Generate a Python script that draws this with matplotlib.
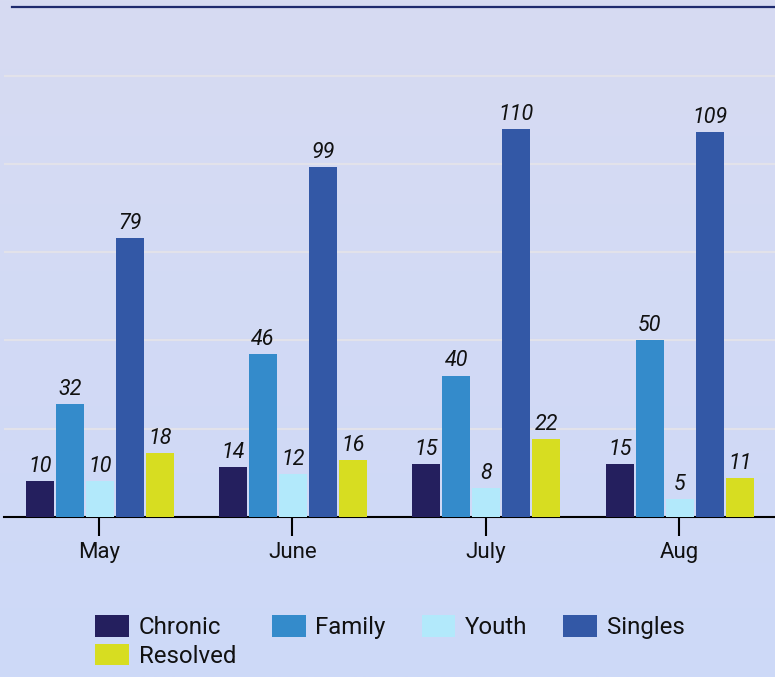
import numpy as np
import matplotlib
matplotlib.use("Agg")
import matplotlib.pyplot as plt
from matplotlib.lines import Line2D

plt.rcParams['font.family'] = ['Roboto', 'DejaVu Sans']

months = ["May", "June", "July", "Aug"]
series_names = ["Chronic", "Family", "Youth", "Singles", "Resolved"]
chronic = [10, 14, 15, 15]
family = [32, 46, 40, 50]
youth = [10, 12, 8, 5]
singles = [79, 99, 110, 109]
resolved = [18, 16, 22, 11]
series_values = [chronic, family, youth, singles, resolved]
colors = ["#241f5e", "#348bcb", "#b2e9fb", "#3358a6", "#d7dd21"]

W, H = 775, 677
fig = plt.figure(figsize=(W / 100, H / 100), dpi=100)

# background gradient
bg = fig.add_axes([0, 0, 1, 1], zorder=-10)
top_c = np.array([215, 219, 242]) / 255
bot_c = np.array([205, 217, 248]) / 255
t = np.linspace(0, 1, 256)[:, None]
grad = (top_c[None, :] * (1 - t) + bot_c[None, :] * t)[:, None, :]
bg.imshow(grad, aspect='auto', extent=[0, 1, 0, 1], origin='upper')
bg.set_axis_off()

base_px = 516.7
top_px = 7.0
left_px = 4.0
ax = fig.add_axes([left_px / W, (H - base_px) / H, (W - left_px) / W, (base_px - top_px) / H])
ax.set_facecolor('none')

x = np.arange(len(months))
pitch = 0.155
width = 0.145
n = len(series_names)
handles = []
for i, (name, vals, col) in enumerate(zip(series_names, series_values, colors)):
    offs = (i - (n - 1) / 2) * pitch
    bars = ax.bar(x + offs + 0.004, vals, width=width, color=col, label=name, zorder=3)
    handles.append(bars)
    for b, v in zip(bars, vals):
        ax.annotate(str(v), (b.get_x() + b.get_width() / 2, b.get_height()),
                    xytext=(0, 3), textcoords='offset points', ha='center', va='bottom',
                    fontsize=15.5, style='italic', color='#111111', zorder=4)

ax.set_xlim(-0.4915, 3.497)
ax.set_ylim(0, 144.5)
ax.set_yticks([25, 50, 75, 100, 125])
ax.yaxis.grid(True, color='#e2e2ea', linewidth=1.6, zorder=0)
ax.set_axisbelow(True)
ax.tick_params(axis='y', left=False, labelleft=False)
ax.set_xticks(x)
ax.set_xticklabels(months, fontsize=16, color='#111111')
ax.tick_params(axis='x', length=13.5, width=1.5, color='black', pad=4.5)
for s in ['top', 'right', 'left']:
    ax.spines[s].set_visible(False)
ax.spines['bottom'].set_color('black')
ax.spines['bottom'].set_linewidth(1.5)

# top rule
fig.add_artist(Line2D([12 / W, 1], [1 - 7 / H, 1 - 7 / H], color='#1e2a6e', linewidth=1.6))

# legend: row-major order (Chronic, Family, Youth, Singles / Resolved)
order = [0, 4, 1, 2, 3]
leg = fig.legend([handles[k] for k in order], [series_names[k] for k in order],
                 loc='upper center', bbox_to_anchor=(0.503, 1 - 603 / H), ncol=4,
                 frameon=False, fontsize=17.3, handlelength=1.4, handleheight=1.0,
                 handletextpad=0.4, columnspacing=1.5, labelspacing=0.2, borderpad=0)
for txt in leg.get_texts():
    txt.set_color('#111111')

fig.savefig('out.png', dpi=100)
